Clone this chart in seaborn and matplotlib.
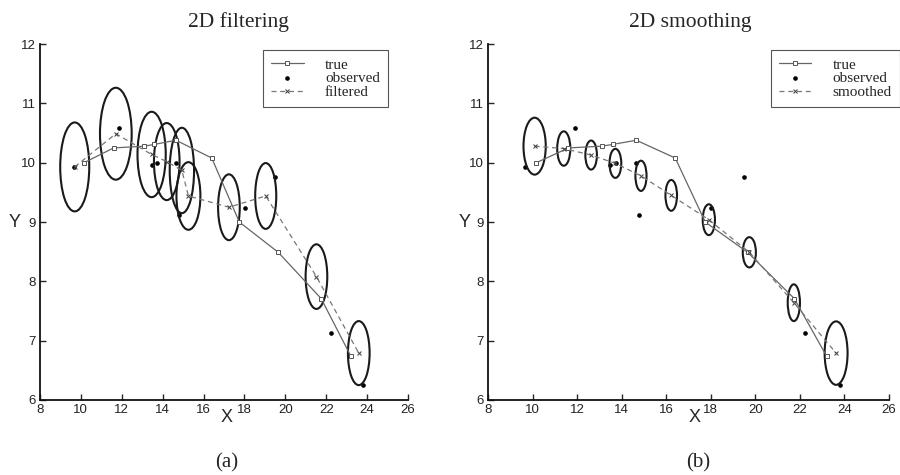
import numpy as np
import pandas as pd
import matplotlib
matplotlib.use("Agg")
import matplotlib.pyplot as plt
from matplotlib.patches import Ellipse
import seaborn as sns

# true trajectory (same in both panels)
true_x = [10.15, 11.6, 13.1, 13.6, 14.65, 16.4, 17.75, 19.65, 21.75, 23.2]
true_y = [10.0, 10.25, 10.28, 10.31, 10.38, 10.08, 9.0, 8.49, 7.71, 6.74]

# noisy observations
obs_x = [9.66, 11.88, 13.46, 13.73, 14.63, 14.79, 18.02, 19.48, 22.22, 23.8]
obs_y = [9.93, 10.59, 9.96, 9.99, 10.0, 9.12, 9.23, 9.76, 7.13, 6.25]

# filtered estimates and covariance ellipse sizes (full width / height in data units)
filt_x = [9.7, 11.71, 13.46, 14.2, 14.94, 15.26, 17.24, 19.04, 21.52, 23.59]
filt_y = [9.93, 10.49, 10.14, 10.02, 9.87, 9.44, 9.25, 9.44, 8.08, 6.79]
filt_w = [1.42, 1.55, 1.38, 1.25, 1.19, 1.17, 1.06, 1.03, 1.06, 1.06]
filt_h = [1.5, 1.55, 1.44, 1.3, 1.44, 1.14, 1.11, 1.11, 1.09, 1.08]

# smoothed estimates and ellipse sizes
smth_x = [10.08, 11.39, 12.62, 13.71, 14.86, 16.22, 17.91, 19.73, 21.73, 23.63]
smth_y = [10.28, 10.24, 10.13, 9.99, 9.78, 9.45, 9.04, 8.49, 7.64, 6.79]
smth_w = [1.0, 0.59, 0.52, 0.53, 0.5, 0.52, 0.55, 0.59, 0.55, 1.03]
smth_h = [0.96, 0.58, 0.49, 0.49, 0.51, 0.52, 0.52, 0.51, 0.62, 1.07]

x_ticks = [8, 10, 12, 14, 16, 18, 20, 22, 24, 26]
y_ticks = [6, 7, 8, 9, 10, 11, 12]

sns.set_theme(style="white")
plt.rcParams['font.family'] = ['Liberation Sans', 'DejaVu Sans']
SERIF = ['Liberation Serif', 'DejaVu Serif']

fig = plt.figure(figsize=(9, 4.75), dpi=100)
ax_a = fig.add_axes([0.0444, 0.158, 0.409, 0.749])
ax_b = fig.add_axes([0.5426, 0.158, 0.445, 0.749])


def panel(ax, ex, ey, ew, eh, est_label, leg_x):
    sns.lineplot(x=true_x, y=true_y, ax=ax, sort=False, estimator=None,
                 color='#666666', linewidth=0.9, marker='s', markersize=3.2,
                 markerfacecolor='white', markeredgecolor='#555555',
                 markeredgewidth=0.7, label='true')
    sns.scatterplot(x=obs_x, y=obs_y, ax=ax, color='black', s=11,
                    marker='o', linewidth=0, label='observed')
    sns.lineplot(x=ex, y=ey, ax=ax, sort=False, estimator=None,
                 color='#777777', linewidth=0.9, linestyle=(0, (4, 3)),
                 marker='x', markersize=3, markeredgecolor='#444444',
                 label=est_label)
    for cx, cy, w, h in zip(ex, ey, ew, eh):
        ax.add_patch(Ellipse((cx, cy), w, h, fill=False,
                             edgecolor='#1a1a1a', linewidth=1.5))

    ax.set_xlim(8, 26)
    ax.set_ylim(6, 12)
    ax.set_xticks(x_ticks)
    ax.set_yticks(y_ticks)
    ax.tick_params(direction='in', length=4, width=1, labelsize=9.5,
                   labelcolor='#222222', pad=3, left=True, bottom=True)
    for s in ['top', 'right']:
        ax.spines[s].set_visible(False)
    for s in ['left', 'bottom']:
        ax.spines[s].set_color('#111111')
        ax.spines[s].set_linewidth(1.3)
    ax.set_xlabel('')
    ax.set_ylabel('')

    leg = ax.legend(loc='upper left', bbox_to_anchor=(leg_x, 0.985),
                    prop={'family': SERIF, 'size': 11},
                    frameon=True, fancybox=False, framealpha=1,
                    edgecolor='#555555', labelspacing=0.0,
                    handlelength=2.1, handletextpad=1.4,
                    borderpad=0.55, borderaxespad=0)
    leg.get_frame().set_linewidth(0.8)


panel(ax_a, filt_x, filt_y, filt_w, filt_h, 'filtered', 0.606)
panel(ax_b, smth_x, smth_y, smth_w, smth_h, 'smoothed', 0.705)

# titles, axis letters and panel tags
fig.text(238 / 900, 1 - 22 / 475, '2D filtering', family=SERIF, fontsize=15.5,
         ha='center', va='center')
fig.text(690 / 900, 1 - 22 / 475, '2D smoothing', family=SERIF, fontsize=15.5,
         ha='center', va='center')
for xp in [15, 465]:
    fig.text(xp / 900, 1 - 222 / 475, 'Y', fontsize=13, ha='center', va='center')
for xp in [227, 695]:
    fig.text(xp / 900, 1 - 418 / 475, 'X', fontsize=13, ha='center', va='center')
fig.text(227 / 900, 1 - 463 / 475, '(a)', family=SERIF, fontsize=15,
         ha='center', va='center')
fig.text(698 / 900, 1 - 463 / 475, '(b)', family=SERIF, fontsize=15,
         ha='center', va='center')

fig.savefig('out.png', dpi=100)
